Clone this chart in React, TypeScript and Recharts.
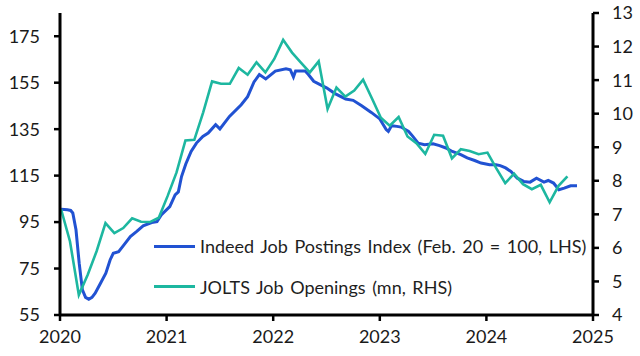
import { LineChart, Line, XAxis, YAxis } from 'recharts';

// Indeed Job Postings Index (Feb. 20 = 100), sampled from the daily series
const indeedDates = [
  2020.01, 2020.07, 2020.10, 2020.12, 2020.15, 2020.18, 2020.21, 2020.24, 2020.27, 2020.30,
  2020.33, 2020.38, 2020.43, 2020.47, 2020.50, 2020.55, 2020.60, 2020.66, 2020.72, 2020.78,
  2020.86, 2020.91, 2020.95, 2021.03, 2021.08, 2021.11, 2021.14, 2021.18, 2021.23, 2021.28,
  2021.34, 2021.39, 2021.46, 2021.50, 2021.59, 2021.70, 2021.76, 2021.82, 2021.87, 2021.93,
  2022.02, 2022.12, 2022.16, 2022.19, 2022.21, 2022.30, 2022.33, 2022.38, 2022.44, 2022.50,
  2022.58, 2022.68, 2022.75, 2022.83, 2022.92, 2023.00, 2023.06, 2023.08, 2023.11, 2023.16,
  2023.20, 2023.27, 2023.31, 2023.36, 2023.42, 2023.50, 2023.56, 2023.62, 2023.68, 2023.76,
  2023.82, 2023.89, 2023.95, 2024.03, 2024.09, 2024.13, 2024.18, 2024.23, 2024.29, 2024.35,
  2024.41, 2024.47, 2024.54, 2024.58, 2024.63, 2024.68, 2024.73, 2024.79, 2024.85,
];
const indeedValues = [
  100.5, 100.3, 100, 98.9, 91.7, 77.3, 65.8, 62.6, 61.8, 62.6,
  64.4, 68.7, 73, 78.7, 81.6, 82.3, 85.2, 88.8, 91, 93.4,
  94.8, 95.2, 98.1, 101.7, 106.7, 108, 114.6, 120, 125.4, 129,
  131.9, 133.3, 136.9, 135.1, 140.5, 145.5, 149, 155.3, 158.5, 156.6,
  160, 161, 160.6, 157.5, 160, 160, 158.5, 155.6, 154.2, 152.8,
  150.3, 148, 147.4, 145.1, 142.2, 139.4, 134.8, 134, 136.5, 136.2,
  135.9, 134, 131.9, 129, 128.3, 128.7, 127.9, 126.9, 125.4, 124,
  122.6, 121.5, 120.4, 119.7, 119.7, 119.3, 118.3, 116.8, 113.9, 112.5,
  112.2, 113.9, 112.2, 112.9, 111.8, 108.9, 109.6, 110.6, 110.6,
];

// JOLTS job openings (mn), monthly from Feb 2020
const joltsStart = 2020.01;
const joltsValues = [
  7.15, 6.2, 4.6, 5.2, 5.9, 6.74, 6.44, 6.59, 6.88, 6.78,
  6.77, 6.9, 7.55, 8.25, 9.2, 9.22, 10.04, 10.96, 10.89, 10.89,
  11.36, 11.16, 11.53, 11.23, 11.63, 12.2, 11.82, 11.52, 11.23, 11.56,
  10.14, 10.78, 10.51, 10.69, 11.01, 10.45, 9.88, 9.64, 9.9, 9.32,
  9.12, 8.8, 9.37, 9.34, 8.67, 8.94, 8.89, 8.79, 8.84, 8.37,
  7.93, 8.21, 7.9, 7.75, 7.88, 7.36, 7.85, 8.13,
];

const xTicks = [2020, 2021, 2022, 2023, 2024, 2025];
const leftTicks = [55, 75, 95, 115, 135, 155, 175];
const rightTicks = [4, 5, 6, 7, 8, 9, 10, 11, 12, 13];

const seriesNames = [
  'Indeed Job Postings Index (Feb. 20 = 100, LHS)',
  'JOLTS Job Openings (mn, RHS)',
];

const BLUE = '#2152d2';
const TEAL = '#1db7a0';
const FONT = 'Lato, "Open Sans", sans-serif';

const indeedData = indeedDates.map((t, i) => ({ t, v: indeedValues[i] }));
const joltsData = joltsValues.map((v, i) => ({ t: joltsStart + i / 12, v }));

function LegendBox() {
  const colors = [BLUE, TEAL];
  return (
    <div style={{ position: 'absolute', left: 154, top: 226, fontFamily: FONT, fontSize: 18, color: '#1e1e1e' }}>
      {seriesNames.map((name, i) => (
        <div key={name} style={{ display: 'flex', alignItems: 'center', height: 40.6 }}>
          <span style={{ display: 'inline-block', width: 41, height: 3, background: colors[i], marginRight: 5 }} />
          <span style={{ whiteSpace: 'pre', wordSpacing: 2 }}>{name}</span>
        </div>
      ))}
    </div>
  );
}

export default function App() {
  const tick = { fill: '#1a1a1a', fontSize: 18, fontFamily: FONT };
  return (
    <div style={{ position: 'absolute', left: 0, top: 0, width: 640, height: 356, background: '#fff' }}>
      <LineChart width={640} height={356} margin={{ top: 13, right: 0, bottom: 0, left: 0 }}>
        <XAxis
          dataKey="t"
          type="number"
          domain={[2020, 2025]}
          ticks={xTicks}
          allowDataOverflow
          height={41}
          tick={tick}
          tickSize={6}
          tickMargin={9}
          axisLine={{ stroke: '#000', strokeWidth: 3 }}
          tickLine={{ stroke: '#000', strokeWidth: 2.5 }}
        />
        <YAxis
          yAxisId="left"
          domain={[55, 185]}
          ticks={leftTicks}
          allowDataOverflow
          width={60}
          tick={tick}
          tickSize={6}
          tickMargin={14}
          axisLine={{ stroke: '#000', strokeWidth: 3 }}
          tickLine={{ stroke: '#000', strokeWidth: 2.5 }}
        />
        <YAxis
          yAxisId="right"
          orientation="right"
          domain={[4, 13]}
          ticks={rightTicks}
          allowDataOverflow
          width={47}
          tick={tick}
          tickSize={6}
          tickMargin={13}
          axisLine={{ stroke: '#000', strokeWidth: 3 }}
          tickLine={{ stroke: '#000', strokeWidth: 2.5 }}
        />
        <Line
          yAxisId="left"
          data={indeedData}
          dataKey="v"
          name={seriesNames[0]}
          stroke={BLUE}
          strokeWidth={3}
          dot={false}
          type="linear"
          isAnimationActive={false}
        />
        <Line
          yAxisId="right"
          data={joltsData}
          dataKey="v"
          name={seriesNames[1]}
          stroke={TEAL}
          strokeWidth={2.6}
          dot={false}
          type="linear"
          isAnimationActive={false}
        />
      </LineChart>
      <LegendBox />
    </div>
  );
}
